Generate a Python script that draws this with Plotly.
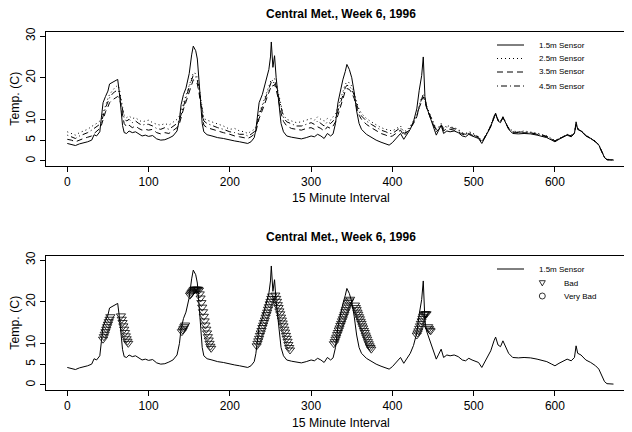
import plotly.graph_objects as go
from plotly.subplots import make_subplots

# the page body keeps an 8px margin, so the figure is drawn 8px smaller and shifted
W, H = 632, 432
OFF = 8

# --- data (15 minute interval, temp in C) ---
interval = [0, 5, 10, 15, 20, 25, 30, 33, 36, 40, 42, 44, 47, 50, 52, 55, 58, 62, 64, 66,
            68, 70, 73, 76, 80, 84, 88, 92, 96, 100, 105, 110, 115, 120, 125, 130, 135, 138, 140, 143,
            146, 150, 153, 155, 158, 160, 162, 164, 166, 168, 172, 178, 185, 192, 200, 206, 212, 218, 222, 226,
            230, 232, 234, 236, 240, 244, 248, 250, 251, 253, 255, 257, 260, 263, 266, 270, 276, 282, 288, 294,
            300, 304, 308, 312, 316, 320, 324, 327, 330, 333, 336, 339, 342, 344, 347, 350, 353, 356, 359, 362,
            368, 374, 380, 386, 392, 396, 400, 405, 410, 414, 418, 422, 426, 430, 433, 436, 438, 440, 442, 445,
            448, 451, 454, 457, 460, 463, 467, 471, 476, 481, 486, 490, 494, 498, 502, 506, 510, 513, 517, 521,
            525, 527, 530, 533, 536, 539, 543, 548, 555, 562, 570, 578, 585, 590, 596, 600, 605, 611, 615, 620,
            624, 626, 628, 632, 638, 644, 650, 654, 658, 661, 664, 672]

s15 = [4.2, 4.0, 3.7, 4.1, 4.3, 4.6, 5.0, 6.3, 6.0, 7.0, 10.5, 14.0, 15.5, 16.8, 18.5, 18.8, 19.0, 19.6, 16.5, 12.0,
       8.5, 6.8, 6.6, 7.2, 6.8, 7.0, 6.4, 6.0, 6.2, 5.9, 6.1, 5.3, 5.0, 5.1, 5.5, 6.0, 7.2, 10.0, 13.5, 16.0,
       17.5, 21.0, 25.5, 27.6, 26.5, 24.5, 19.5, 13.5, 9.0, 7.0, 6.3, 6.0, 5.6, 5.4, 5.0, 4.8, 4.6, 4.4, 4.2, 4.6,
       5.6, 7.5, 11.5, 14.0, 16.0, 19.0, 22.0, 25.0, 28.6, 22.5, 25.3, 20.0, 14.0, 9.0, 7.0, 6.0, 5.7, 5.5, 5.3, 5.6,
       6.0, 5.8, 6.4, 6.0, 5.4, 6.6, 6.0, 6.5, 9.0, 14.0, 17.0, 19.5, 21.5, 23.2, 22.0, 20.0, 16.5, 12.0, 9.0, 7.6,
       6.4, 5.6, 5.0, 4.5, 4.0, 3.8, 4.4, 5.4, 6.6, 5.2, 6.4, 7.6, 9.5, 12.5, 17.0, 20.5, 25.0, 15.5, 13.0, 11.2,
       9.6, 8.0, 6.2, 7.4, 8.6, 6.6, 7.2, 7.0, 7.2, 6.8, 6.0, 5.8, 6.4, 6.0, 5.6, 5.4, 4.2, 5.2, 6.6, 8.2,
       10.6, 11.5, 9.6, 9.2, 10.6, 9.4, 7.6, 6.6, 6.5, 6.6, 6.5, 6.2, 5.9, 5.6, 5.0, 4.6, 5.2, 5.8, 6.2, 5.8,
       6.6, 9.4, 7.6, 7.2, 6.0, 5.4, 4.6, 3.8, 2.2, 0.8, 0.3, 0.2]

s25 = [7.0, 6.6, 6.2, 6.8, 7.2, 7.6, 8.3, 8.6, 9.0, 9.6, 10.2, 11.5, 13.5, 15.0, 16.0, 16.8, 17.5, 18.2, 17.4, 15.0,
       12.5, 11.0, 10.4, 10.8, 10.2, 10.4, 9.8, 9.4, 9.6, 9.8, 9.2, 8.8, 8.6, 9.0, 8.6, 9.2, 10.0, 10.8, 12.0, 14.0,
       16.0, 18.5, 20.0, 21.2, 21.0, 20.0, 18.0, 15.0, 12.0, 10.2, 9.8, 9.4, 8.8, 8.4, 7.6, 7.8, 7.2, 7.0, 6.6, 7.0,
       7.6, 8.2, 9.6, 11.5, 13.5, 15.8, 18.0, 19.0, 19.6, 19.2, 19.8, 18.6, 16.0, 13.0, 11.0, 10.0, 9.6, 9.2, 9.4, 9.8,
       10.2, 9.8, 10.6, 10.0, 9.6, 10.2, 9.8, 10.6, 11.4, 13.0, 15.0, 16.8, 18.4, 19.0, 18.8, 18.0, 16.5, 14.2, 12.4, 11.4,
       10.2, 9.4, 8.6, 8.0, 7.6, 7.4, 7.2, 7.8, 8.4, 7.0, 7.4, 8.4, 9.6, 11.0, 13.5, 15.4, 16.2, 15.2, 13.4, 11.8,
       10.4, 9.2, 7.6, 8.2, 9.0, 7.8, 8.6, 8.2, 8.0, 7.6, 6.8, 6.6, 7.0, 6.8, 6.2, 5.8, 4.8, 5.6, 7.0, 8.6,
       10.8, 11.4, 10.0, 9.6, 10.6, 9.6, 8.0, 7.2, 7.0, 7.2, 7.0, 6.7, 6.3, 6.0, 5.4, 4.9, 5.4, 6.0, 6.4, 6.2,
       6.8, 8.6, 7.8, 7.4, 6.2, 5.5, 4.7, 3.9, 2.3, 0.9, 0.4, 0.3]

s35 = [5.2, 5.0, 4.6, 5.1, 5.4, 5.7, 6.0, 6.6, 7.1, 7.8, 8.6, 10.0, 11.8, 13.0, 14.0, 14.6, 15.0, 15.5, 15.2, 13.5,
       11.0, 9.0, 8.2, 8.6, 8.0, 8.4, 7.8, 7.4, 7.6, 7.4, 7.6, 6.8, 6.5, 6.8, 6.6, 7.2, 8.0, 9.0, 10.5, 12.5,
       14.2, 16.8, 18.5, 19.5, 19.2, 18.5, 16.5, 13.5, 10.5, 8.6, 8.0, 7.6, 7.2, 6.8, 6.4, 6.0, 5.8, 5.6, 5.4, 5.8,
       6.4, 7.0, 8.4, 10.2, 12.2, 14.2, 16.5, 17.5, 18.2, 18.0, 18.4, 17.2, 14.5, 11.5, 9.5, 8.4, 7.8, 7.6, 7.4, 7.8,
       8.0, 7.6, 8.2, 7.8, 7.2, 8.2, 7.8, 8.4, 9.4, 11.0, 13.0, 15.0, 16.8, 17.4, 17.2, 16.4, 15.0, 12.8, 11.0, 10.0,
       8.8, 8.0, 7.2, 6.6, 6.2, 5.8, 6.0, 6.6, 7.4, 6.0, 6.8, 7.8, 9.0, 10.6, 12.8, 14.6, 15.4, 14.4, 12.8, 11.2,
       9.8, 8.6, 7.0, 7.6, 8.4, 7.2, 7.8, 7.6, 7.4, 7.0, 6.4, 6.2, 6.6, 6.2, 5.8, 5.6, 4.5, 5.4, 6.8, 8.4,
       10.6, 11.2, 9.8, 9.4, 10.4, 9.4, 7.8, 6.9, 6.8, 6.8, 6.7, 6.4, 6.1, 5.8, 5.2, 4.8, 5.3, 5.9, 6.3, 6.0,
       6.7, 8.8, 7.6, 7.2, 6.1, 5.4, 4.6, 3.8, 2.2, 0.8, 0.3, 0.2]

s45 = [6.2, 5.8, 5.4, 6.0, 6.4, 6.8, 7.4, 7.8, 8.2, 8.8, 9.4, 11.0, 12.8, 14.2, 15.2, 16.0, 16.6, 17.0, 16.5, 14.5,
       12.0, 10.2, 9.6, 10.0, 9.2, 9.6, 9.0, 8.6, 8.8, 8.8, 8.4, 7.8, 7.6, 8.0, 7.6, 8.2, 9.0, 9.8, 11.2, 13.2,
       15.0, 17.8, 19.5, 20.6, 20.2, 19.4, 17.2, 14.4, 11.5, 9.6, 9.0, 8.5, 8.0, 7.6, 7.0, 6.8, 6.4, 6.4, 6.0, 6.4,
       7.0, 7.6, 9.0, 11.0, 13.0, 15.2, 17.4, 18.4, 19.0, 18.6, 19.2, 18.0, 15.4, 12.4, 10.4, 9.4, 8.8, 8.4, 8.4, 8.8,
       9.2, 8.8, 9.6, 9.0, 8.4, 9.4, 9.0, 9.6, 10.4, 12.0, 14.0, 16.0, 17.6, 18.2, 18.0, 17.2, 15.8, 13.6, 11.8, 10.8,
       9.6, 8.8, 8.0, 7.4, 7.0, 6.6, 6.6, 7.2, 8.0, 6.6, 7.0, 8.0, 9.2, 10.8, 13.2, 15.0, 15.8, 14.8, 13.0, 11.6,
       10.2, 9.0, 7.4, 8.0, 8.8, 7.6, 8.2, 8.0, 7.8, 7.4, 6.6, 6.4, 6.8, 6.6, 6.0, 5.8, 4.6, 5.4, 6.8, 8.4,
       10.6, 11.2, 9.8, 9.4, 10.4, 9.4, 7.8, 7.0, 6.9, 7.0, 6.8, 6.5, 6.2, 5.9, 5.2, 4.8, 5.3, 5.9, 6.3, 6.0,
       6.7, 8.6, 7.8, 7.3, 6.1, 5.4, 4.6, 3.8, 2.2, 0.8, 0.3, 0.2]

# flagged ("Bad") readings of the 1.5m sensor
bad_x = [44, 45, 46, 47, 48, 49, 50, 51, 52, 53,
         66, 67, 68, 69, 70, 71, 72, 73, 74, 75,
         141, 142, 143, 144, 145,
         151, 152, 153, 154, 155, 156, 157, 158, 159, 160, 161,
         162, 163, 164, 165, 166, 167, 168, 169, 170, 171, 172, 173, 174, 175, 176, 177,
         233, 234, 235, 236, 237, 238, 239, 240, 241, 242, 243, 244, 245, 246, 247, 248, 249, 250, 251, 252,
         256, 257, 258, 259, 260, 261, 262, 263, 264, 265, 266, 267, 268, 269, 270, 271, 272, 273, 274,
         328, 329, 330, 331, 332, 333, 334, 335, 336, 337, 338, 339, 340, 341, 342, 343, 344, 345, 346, 347, 348,
         354, 355, 356, 357, 358, 359, 360, 361, 362, 363, 364, 365, 366, 367, 368, 369, 370, 371, 372, 373, 374,
         430, 431, 432, 433, 434, 435, 436, 437, 438, 439, 440, 441, 442,
         444, 445, 446, 447]
bad_y = [11.0, 11.6, 12.2, 12.8, 13.4, 14.0, 14.6, 15.2, 15.8, 16.4,
         16.6, 15.8, 15.0, 14.2, 13.4, 12.6, 11.8, 11.1, 10.5, 10.0,
         12.8, 13.2, 13.6, 14.0, 14.4,
         21.6, 21.9, 22.2, 22.5, 22.8, 23.0, 23.0, 23.0, 23.0, 23.0, 23.0,
         22.8, 21.9, 20.9, 19.8, 18.7, 17.6, 16.5, 15.4, 14.4, 13.4, 12.5, 11.6, 10.8, 10.0, 9.3, 8.8,
         9.4, 10.0, 10.6, 11.2, 11.9, 12.5, 13.1, 13.8, 14.4, 15.0, 15.6, 16.3, 16.9, 17.5, 18.2, 18.8, 19.5, 20.1,
         20.8, 21.4,
         21.6, 20.8, 20.1, 19.3, 18.6, 17.8, 17.1, 16.3, 15.6, 14.9, 14.2, 13.4, 12.7, 11.9, 11.2, 10.5, 9.7, 9.0, 8.4,
         9.9, 10.4, 11.0, 11.5, 12.1, 12.6, 13.2, 13.7, 14.3, 14.8, 15.4, 15.9, 16.5, 17.0, 17.6, 18.1, 18.7, 19.2,
         19.8, 20.2, 20.6,
         19.2, 18.6, 18.1, 17.5, 17.0, 16.4, 15.9, 15.3, 14.8, 14.2, 13.7, 13.1, 12.6, 12.0, 11.5, 11.0, 10.4, 9.9,
         9.4, 9.0, 8.6,
         12.0, 12.5, 13.0, 13.6, 14.2, 14.8, 15.4, 16.0, 16.5, 17.0, 17.1, 17.1, 17.1,
         14.0, 13.6, 13.2, 13.0]

sensor_names = ["1.5m Sensor", "2.5m Sensor", "3.5m Sensor", "4.5m Sensor"]
sensor_dash = ["solid", "1px,3px", "6px,4px", "1px,3px,6px,3px"]
x_ticks = [0, 100, 200, 300, 400, 500, 600]
y_ticks = [0, 5, 10, 20, 30]
title_txt = "Central Met., Week 6, 1996"
FONT = "Liberation Sans, Arial, sans-serif"

FW, FH = W - OFF, H - OFF


def px(x):
    # window pixel -> paper x
    return (x - OFF) / FW


def py(y):
    # window pixel -> paper y
    return 1 - (y - OFF) / FH


fig = make_subplots(rows=2, cols=1)

for name, ys, dash in zip(sensor_names, [s15, s25, s35, s45], sensor_dash):
    fig.add_trace(go.Scatter(x=interval, y=ys, mode='lines', name=name, showlegend=False,
                             line=dict(color='black', width=1, dash=dash)), row=1, col=1)

fig.add_trace(go.Scatter(x=interval, y=s15, mode='lines', name=sensor_names[0], showlegend=False,
                         line=dict(color='black', width=1)), row=2, col=1)
fig.add_trace(go.Scatter(x=bad_x, y=bad_y, mode='markers', name='Bad', showlegend=False,
                         marker=dict(symbol='triangle-down-open', size=8, color='black',
                                     line=dict(width=0.8, color='black'))), row=2, col=1)

ax = dict(showline=True, mirror=True, linecolor='black', linewidth=1, showgrid=False, zeroline=False,
          ticks='outside', ticklen=5, tickwidth=1, tickcolor='black', automargin=False,
          tickfont=dict(size=12))
fig.update_xaxes(range=[-26.2, 694.8], tickvals=x_ticks, domain=[px(46), 1], **ax)
fig.update_yaxes(range=[-1.1, 31.0], tickvals=y_ticks, tickangle=-90, **ax)
fig.update_yaxes(domain=[py(165.5), py(32)], row=1, col=1)
fig.update_yaxes(domain=[py(389.5), py(256)], row=2, col=1)

# titles and axis labels
ann = []
for ty, xy, cy in [(14, 198, 98.7), (237, 423, 322.7)]:
    ann.append(dict(text="<b>" + title_txt + "</b>", x=px(341), y=py(ty), font=dict(size=12)))
    ann.append(dict(text="15 Minute Interval", x=px(340.5), y=py(xy), font=dict(size=12.3)))
    ann.append(dict(text="Temp. (C)", x=px(15), y=py(cy), textangle=-90, font=dict(size=12.3)))

# legends drawn R-style
shapes = []
for i, (name, dash) in enumerate(zip(sensor_names, sensor_dash)):
    ry = [45, 58.5, 72, 86][i]
    shapes.append(dict(type='line', xref='paper', yref='paper', x0=px(497), x1=px(524), y0=py(ry), y1=py(ry),
                       line=dict(color='black', width=1, dash=dash)))
    ann.append(dict(text=name, x=px(537), y=py(ry), xanchor='left', font=dict(size=8)))

shapes.append(dict(type='line', xref='paper', yref='paper', x0=px(497), x1=px(524), y0=py(269), y1=py(269),
                   line=dict(color='black', width=1)))
ann.append(dict(text=sensor_names[0], x=px(537), y=py(269), xanchor='left', font=dict(size=8)))
tx, ty = 542.3, 283.3
shapes.append(dict(type='path', xref='paper', yref='paper',
                   path=f"M {px(tx-3)} {py(ty-2.6)} L {px(tx+3)} {py(ty-2.6)} L {px(tx)} {py(ty+2.6)} Z",
                   line=dict(color='black', width=0.8)))
ann.append(dict(text="Bad", x=px(561.7), y=py(283.3), xanchor='left', font=dict(size=8)))
shapes.append(dict(type='circle', xref='paper', yref='paper', x0=px(539.3), x1=px(545.3), y0=py(299), y1=py(293),
                   line=dict(color='black', width=0.8)))
ann.append(dict(text="Very Bad", x=px(561.7), y=py(296), xanchor='left', font=dict(size=8)))

for a in ann:
    a.update(xref='paper', yref='paper', showarrow=False, yanchor='middle')
    a.setdefault('xanchor', 'center')
    a['font'] = dict(family=FONT, color='black', **a['font'])

fig.update_layout(width=FW, height=FH, margin=dict(l=0, r=0, t=0, b=0), showlegend=False,
                  paper_bgcolor='white', plot_bgcolor='white',
                  font=dict(family=FONT, size=12, color='black'),
                  annotations=ann, shapes=shapes)

fig.write_html("out.html")
